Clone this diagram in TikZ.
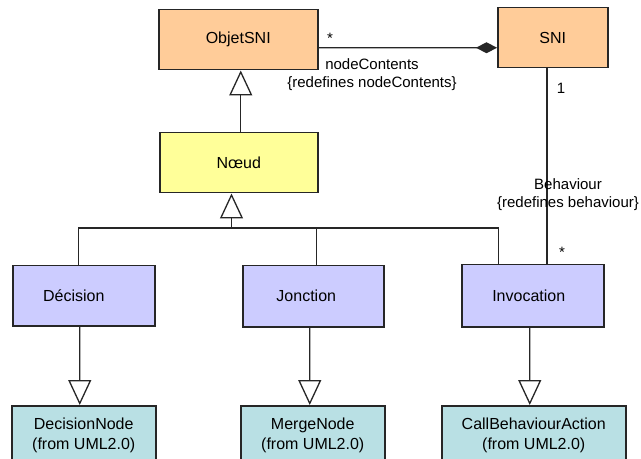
\documentclass[tikz,border=0pt]{standalone}
\usepackage{fontspec}
\setmainfont{Liberation Sans}
\usetikzlibrary{arrows.meta,calc}
\definecolor{orangebox}{RGB}{255,204,153}
\definecolor{yellowbox}{RGB}{255,255,153}
\definecolor{lavbox}{RGB}{204,204,255}
\definecolor{tealbox}{RGB}{185,224,228}
\tikzset{
  umlbox/.style={draw=black!85, line width=1.5bp, inner sep=0pt, anchor=north west,
    font=\fontsize{16bp}{20bp}\selectfont, align=center},
  conn/.style={draw=black!85, line width=1.3bp},
  gen/.style={conn, -{Triangle[open, length=25bp, width=23bp, fill=white]}},
  comp/.style={conn, -{Diamond[length=21bp, width=11bp]}},
  lbl/.style={font=\fontsize{15bp}{18bp}\selectfont, align=center, inner sep=0pt},
}
\begin{document}
\begin{tikzpicture}[x=1bp, y=-1bp]
\useasboundingbox (0,0) rectangle (641,459);
\fill[white] (0,0) rectangle (641,459);
% boxes
\node[umlbox, fill=orangebox, minimum width=159bp, minimum height=60bp] (obj) at (158,9) {ObjetSNI};
\node[umlbox, fill=orangebox, minimum width=110bp, minimum height=60bp] (sni) at (497,7) {SNI};
\node[umlbox, fill=yellowbox, minimum width=158bp, minimum height=60bp] (noeud) at (159,132) {N\oe ud};
\node[umlbox, fill=lavbox, minimum width=142bp, minimum height=60bp] (dec) at (12,265) {D\'ecision\hspace*{20bp}};
\node[umlbox, fill=lavbox, minimum width=141bp, minimum height=61bp] (jon) at (242,265) {Jonction\hspace*{14bp}};
\node[umlbox, fill=lavbox, minimum width=142bp, minimum height=62bp] (inv) at (461,264) {Invocation\hspace*{8bp}};
\node[umlbox, fill=tealbox, minimum width=144bp, minimum height=60bp] (dn) at (11,405) {DecisionNode\\(from UML2.0)};
\node[umlbox, fill=tealbox, minimum width=144bp, minimum height=60bp] (mn) at (240,405) {MergeNode\\(from UML2.0)};
\node[umlbox, fill=tealbox, minimum width=184bp, minimum height=60bp] (cb) at (441,405) {CallBehaviourAction\\(from UML2.0)};
% generalization ObjetSNI <- Noeud
\draw[gen] ([xshift=2bp]noeud.north) -- ([xshift=2.5bp]obj.south);
% bus to Noeud
\coordinate (bj) at (231.5,228);
\draw[conn] ([xshift=-5bp]dec.north) |- (bj);
\draw[conn] ([xshift=3.5bp]jon.north) |- (bj);
\draw[conn] ([xshift=-34bp]inv.north) |- (bj);
\draw[gen] (bj) -- (bj |- noeud.south);
% generalizations to UML2.0
\draw[gen] ([xshift=-4bp]dec.south) -- ([xshift=-4bp]dn.north);
\draw[gen] ([xshift=-3.5bp]jon.south) -- ([xshift=-3bp]mn.north);
\draw[gen] ([xshift=-3bp]inv.south) -- ([xshift=-4bp]cb.north);
% association ObjetSNI - SNI
\draw[comp] ([yshift=-8bp]obj.east) -- ([yshift=-10bp]sni.west);
\node[lbl] (s1) at (330,38) {*};
\node[lbl] (nc) at (372,75) {nodeContents\\\{redefines nodeContents\}};
% association SNI - Invocation
\coordinate (sx) at (547,0);
\draw[conn] (sni.south -| sx) -- (inv.north -| sx);
\node[lbl] (one) at (561,88) {1};
\node[lbl] (bh) at (568,195) {Behaviour\\\{redefines behaviour\}};
\node[lbl] (s2) at (562,252) {*};
\end{tikzpicture}
\end{document}
